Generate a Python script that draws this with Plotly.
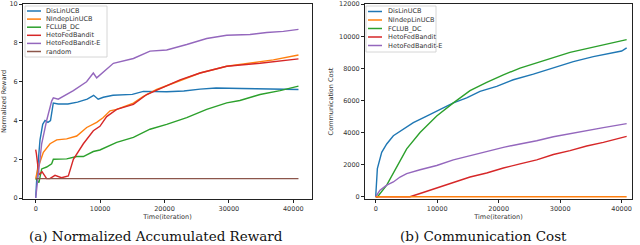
import plotly.graph_objects as go

W, H = 640, 245
MT, MB = 4, 46

# ---------------- data: (a) normalized accumulated reward ----------------
reward_names = ["DisLinUCB", "NIndepLinUCB", "FCLUB_DC", "HetoFedBandit", "HetoFedBandit-E", "random"]
colors = ["#1f77b4", "#ff7f0e", "#2ca02c", "#d62728", "#9467bd", "#8c564b"]

a_dis_x = [0, 150, 670, 1090, 1450, 1900, 2300, 2730, 3500, 5000, 6500, 8000, 9000, 9700, 10500, 12000, 15000, 16720, 20340, 23000, 25520, 28000, 32000, 36000, 40800]
a_dis_y = [0, 0.9, 3.0, 3.8, 4.0, 3.9, 4.0, 4.9, 4.85, 4.85, 4.95, 5.1, 5.3, 5.1, 5.2, 5.3, 5.35, 5.5, 5.48, 5.52, 5.62, 5.68, 5.65, 5.62, 5.6]

a_ind_x = [0, 400, 1190, 2230, 3260, 4810, 6370, 7920, 9470, 10500, 11540, 12580, 15170, 16720, 18790, 21380, 25520, 29660, 33280, 36900, 40800]
a_ind_y = [1.0, 1.6, 2.36, 2.8, 3.0, 3.05, 3.2, 3.64, 3.9, 4.15, 4.5, 4.57, 4.9, 5.25, 5.6, 5.94, 6.45, 6.8, 6.95, 7.13, 7.38]

a_fc_x = [0, 500, 930, 1700, 2480, 2740, 4810, 6370, 7400, 8950, 9970, 12580, 15170, 17750, 20340, 23450, 26550, 29660, 31700, 34830, 37940, 40800]
a_fc_y = [1.0, 0.8, 1.5, 1.6, 1.77, 2.0, 2.02, 2.14, 2.14, 2.4, 2.48, 2.87, 3.13, 3.55, 3.8, 4.15, 4.57, 4.91, 5.03, 5.34, 5.54, 5.77]

a_het_x = [0, 100, 500, 1000, 1700, 2200, 3000, 4000, 5070, 5850, 7400, 8950, 9970, 11020, 12580, 15170, 17240, 19300, 22410, 25520, 29660, 34830, 40800]
a_het_y = [2.5, 2.3, 1.2, 1.35, 1.0, 1.0, 1.17, 1.05, 1.14, 2.0, 2.8, 3.47, 3.7, 4.2, 4.57, 4.83, 5.34, 5.65, 6.1, 6.45, 6.8, 6.95, 7.18]

a_hete_x = [0, 400, 930, 1700, 2480, 2740, 3500, 5850, 7900, 8950, 9470, 12060, 15170, 17750, 20340, 23450, 26550, 29660, 33280, 35870, 38460, 40800]
a_hete_y = [0, 1.26, 2.8, 4.0, 5.0, 5.17, 5.1, 5.54, 6.0, 6.45, 6.2, 6.95, 7.2, 7.58, 7.64, 7.92, 8.23, 8.4, 8.44, 8.54, 8.6, 8.7]

a_rand_x = [0, 40800]
a_rand_y = [1.0, 1.0]

# ---------------- data: (b) communication cost ----------------
cost_names = ["DisLinUCB", "NIndepLinUCB", "FCLUB_DC", "HetoFedBandit", "HetoFedBandit-E"]

b_dis_x = [0, 270, 975, 1790, 2870, 4500, 6120, 8290, 10460, 12630, 14800, 16960, 19670, 22380, 25640, 28890, 32140, 35390, 38100, 40000, 40810]
b_dis_y = [0, 1750, 2770, 3290, 3800, 4210, 4620, 5030, 5440, 5850, 6160, 6570, 6880, 7290, 7640, 8050, 8420, 8730, 8930, 9080, 9280]

b_ind_x = [0, 40810]
b_ind_y = [0, 0]

b_fc_x = [0, 300, 1790, 3410, 5040, 7210, 9920, 12630, 15340, 18050, 20760, 23470, 26180, 28890, 31600, 34310, 37020, 40810]
b_fc_y = [0, 0, 720, 1850, 2980, 4000, 5030, 5850, 6610, 7130, 7600, 8010, 8360, 8670, 9000, 9240, 9490, 9790]

b_het_x = [0, 5580, 7210, 9920, 12630, 15340, 18050, 20760, 23470, 26180, 28890, 31600, 34310, 37020, 40810]
b_het_y = [0, 0, 205, 555, 920, 1230, 1480, 1790, 2050, 2300, 2630, 2870, 3160, 3390, 3760]

b_hete_x = [0, 700, 1790, 2870, 3960, 5040, 7210, 9920, 12630, 15340, 18050, 20760, 23470, 26180, 28890, 31600, 34310, 37020, 40810]
b_hete_y = [0, 410, 720, 920, 1230, 1440, 1680, 1950, 2300, 2570, 2830, 3080, 3290, 3490, 3740, 3940, 4110, 4310, 4560]

x_ticks = [0, 10000, 20000, 30000, 40000]
a_y_ticks = [0, 2, 4, 6, 8, 10]
b_y_ticks = [0, 2000, 4000, 6000, 8000, 10000, 12000]

fig = go.Figure()

a_series = [(a_dis_x, a_dis_y), (a_ind_x, a_ind_y), (a_fc_x, a_fc_y),
            (a_het_x, a_het_y), (a_hete_x, a_hete_y), (a_rand_x, a_rand_y)]
for (xs, ys), name, c in zip(a_series, reward_names, colors):
    fig.add_trace(go.Scatter(x=xs, y=ys, mode="lines", name=name, showlegend=False,
                             line=dict(color=c, width=1.4), xaxis="x", yaxis="y", cliponaxis=False))

b_series = [(b_dis_x, b_dis_y), (b_ind_x, b_ind_y), (b_fc_x, b_fc_y),
            (b_het_x, b_het_y), (b_hete_x, b_hete_y)]
order = [0, 2, 4, 3, 1]
for i in order:
    xs, ys = b_series[i]
    fig.add_trace(go.Scatter(x=xs, y=ys, mode="lines", name=cost_names[i], showlegend=False,
                             line=dict(color=colors[i], width=1.4), xaxis="x2", yaxis="y2"))

def px_x(p):
    return p / W

def px_y(p):
    return (H - MB - p) / (H - MT - MB)

tickfont = dict(family="DejaVu Sans", size=6.5, color="#333")
axis_common = dict(showgrid=False, zeroline=False, showline=True, mirror=True, linecolor="#222",
                   linewidth=1, ticks="outside", ticklen=3, tickcolor="#222", tickfont=tickfont,
                   automargin=False, ticklabeloverflow="allow")

fig.update_layout(
    width=W, height=H,
    margin=dict(l=0, r=0, t=MT, b=MB, autoexpand=False),
    paper_bgcolor="white", plot_bgcolor="white",
    xaxis=dict(domain=[px_x(23), px_x(312)], range=[-1970, 42900], tickvals=x_ticks,
               ticktext=[str(v) for v in x_ticks], anchor="y",
               title=dict(text="Time(iteration)", font=tickfont, standoff=2), **axis_common),
    yaxis=dict(domain=[0, 1], range=[-0.05, 10.01], tickvals=a_y_ticks,
               ticktext=[str(v) for v in a_y_ticks], anchor="x",
               title=dict(text="Normalized Reward", font=tickfont, standoff=4), **axis_common),
    xaxis2=dict(domain=[px_x(365), px_x(632)], range=[-1740, 41680], tickvals=x_ticks,
                ticktext=[str(v) for v in x_ticks], anchor="y2",
                title=dict(text="Time(iteration)", font=tickfont, standoff=2), **axis_common),
    yaxis2=dict(domain=[0, 1], range=[-140, 12010], tickvals=b_y_ticks,
                ticktext=[str(v) for v in b_y_ticks], anchor="x2",
                title=dict(text="Communication Cost", font=tickfont, standoff=4), **axis_common),
    showlegend=False,
)

shapes = []
annotations = []

def add_legend(names, cols, box, line_x0, line_x1, text_x, row_y0, dy):
    x0, y0, x1, y1 = box
    shapes.append(dict(type="rect", xref="paper", yref="paper",
                       x0=px_x(x0), x1=px_x(x1), y0=px_y(y1), y1=px_y(y0),
                       line=dict(color="#cccccc", width=0.8), fillcolor="rgba(255,255,255,0.8)"))
    for k, (n, c) in enumerate(zip(names, cols)):
        yy = row_y0 + k * dy
        shapes.append(dict(type="line", xref="paper", yref="paper",
                           x0=px_x(line_x0), x1=px_x(line_x1), y0=px_y(yy), y1=px_y(yy),
                           line=dict(color=c, width=1.5)))
        annotations.append(dict(text=n, xref="paper", yref="paper", x=px_x(text_x), y=px_y(yy),
                                xanchor="left", yanchor="middle", showarrow=False,
                                font=dict(family="DejaVu Sans", size=6.5, color="#333")))

add_legend(reward_names, colors, (25, 6, 107, 57), 27, 41, 44, 11, 8.1)
add_legend(cost_names, colors[:5], (366, 6, 436, 52), 368, 382, 386, 11.5, 8.5)

cap_font = dict(family="DejaVu Serif", size=13.5, color="#111")
annotations.append(dict(text="(a) Normalized Accumulated Reward", xref="paper", yref="paper",
                        x=px_x(156), y=px_y(236), xanchor="center", yanchor="middle",
                        showarrow=False, font=cap_font))
annotations.append(dict(text="(b) Communication Cost", xref="paper", yref="paper",
                        x=px_x(483), y=px_y(236), xanchor="center", yanchor="middle",
                        showarrow=False, font=cap_font))

fig.update_layout(shapes=shapes, annotations=annotations)
fig.write_html("out.html", config={"displayModeBar": False},
               post_script="document.body.style.margin='0';document.body.style.overflow='hidden';")
